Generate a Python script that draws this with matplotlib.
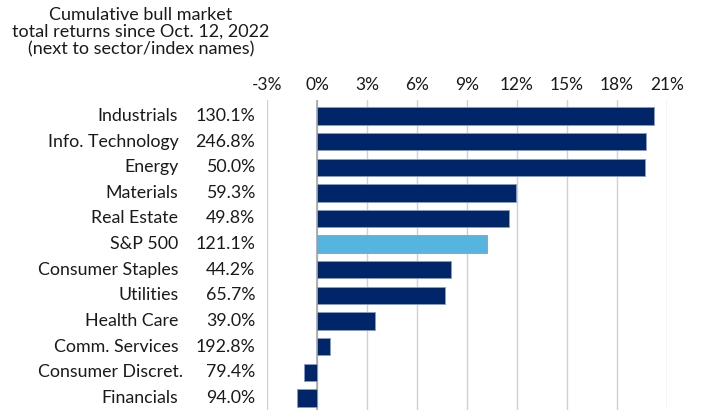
import matplotlib.pyplot as plt
from matplotlib.ticker import FuncFormatter

plt.rcParams['font.family'] = ['Lato', 'DejaVu Sans']

# 数据：板块名称、累计总回报（标签）、柱状值（%）
sectors = ['Industrials', 'Info. Technology', 'Energy', 'Materials', 'Real Estate',
           'S&P 500', 'Consumer Staples', 'Utilities', 'Health Care',
           'Comm. Services', 'Consumer Discret.', 'Financials']
cum_returns = ['130.1%', '246.8%', '50.0%', '59.3%', '49.8%', '121.1%',
               '44.2%', '65.7%', '39.0%', '192.8%', '79.4%', '94.0%']
values = [20.2, 19.75, 19.7, 11.95, 11.5, 10.2, 8.05, 7.7, 3.45, 0.8, -0.8, -1.2]
x_ticks = [-3, 0, 3, 6, 9, 12, 15, 18, 21]

navy = '#00266A'
light_blue = '#55B5E0'


def main():
    fig = plt.figure(figsize=(7.18, 4.17), dpi=100)
    ax = fig.add_axes([0.372, 0.017, 0.557, 0.743])

    colors = [light_blue if s == 'S&P 500' else navy for s in sectors]
    ypos = list(range(len(sectors)))
    ax.barh(ypos, values, height=0.68, color=colors, edgecolor='#8A9CC0',
            linewidth=0.6, zorder=3)

    ax.set_xlim(-3, 21)
    ax.set_ylim(len(sectors) - 0.53, -0.62)
    ax.set_xticks(x_ticks)
    ax.xaxis.set_major_formatter(FuncFormatter(lambda v, p: f'{int(v)}%'))
    ax.xaxis.tick_top()
    ax.tick_params(axis='x', length=0, pad=5, labelsize=12.5, colors='#1a1a1a')
    ax.set_yticks([])
    ax.grid(axis='x', color='#D0D0D0', linewidth=1, zorder=0)
    ax.axvline(0, color='#A8A8A8', linewidth=1.2, zorder=2)
    for sp in ax.spines.values():
        sp.set_visible(False)

    # 板块名称和累计回报
    for i, (name, ret) in enumerate(zip(sectors, cum_returns)):
        # 除 Consumer Discret. 外原图标签末尾留有空格
        xoff = -0.21 if name.endswith('.') and name != 'Info. Technology' and name != 'Comm. Services' else -0.222
        ax.text(xoff, i, name, transform=ax.get_yaxis_transform(),
                ha='right', va='center', fontsize=12.8, color='#1a1a1a')
        ax.text(-0.03, i, ret, transform=ax.get_yaxis_transform(),
                ha='right', va='center', fontsize=12.8, color='#1a1a1a')

    fig.text(0.196, 0.923, 'Cumulative bull market\ntotal returns since Oct. 12, 2022\n(next to sector/index names)',
             ha='center', va='center', fontsize=13, color='#1a1a1a', linespacing=1.08)

    fig.savefig('out.png', dpi=100)


if __name__ == '__main__':
    main()
